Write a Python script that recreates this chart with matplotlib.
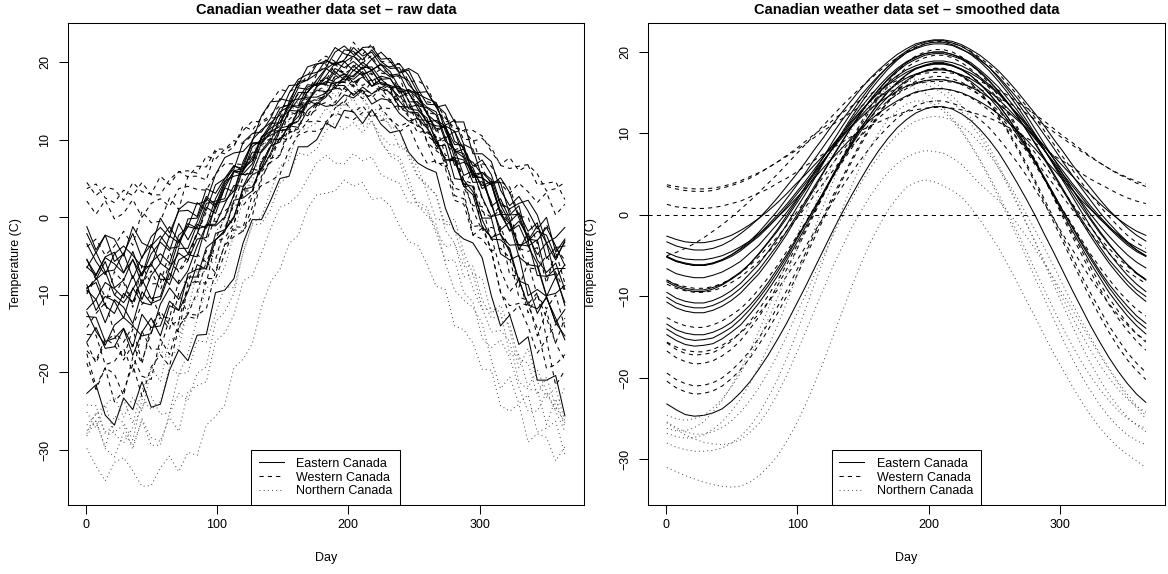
#!/usr/bin/env python3
"""Canadian weather data: raw vs smoothed daily temperature curves, side by side."""
import matplotlib
matplotlib.use("Agg")
import matplotlib.pyplot as plt
from matplotlib.lines import Line2D

plt.rcParams["font.family"] = ["Liberation Sans", "DejaVu Sans"]

# curves read every 7 days (day 1 .. 365)
days = list(range(1, 366, 7))

region_labels = ["Eastern Canada", "Western Canada", "Northern Canada"]

east_raw = {
    "St. Johns": [-3.4, -5.7, -7.4, -4.7, -3.7, -4.9, -6.4, -6.3, -2.9, -1.2, -3.1, -0.8, -1.4, 1.8, 2.1, 2.4, 5.9, 5.5, 5.7, 8.6, 10.1, 10.0, 11.8, 11.6, 13.8, 14.8, 14.3, 14.5, 15.8, 15.4, 16.4, 14.6, 15.3, 15.1, 13.4, 12.4, 12.8, 11.5, 9.7, 10.4, 6.7, 7.1, 6.4, 3.7, 4.4, 0.4, 0.3, 1.5, -3.1, -1.8, -2.3, -5.2, -3.2],
    "Halifax": [-5.5, -7.4, -5.1, -4.5, -7.1, -5.5, -7.5, -3.7, -2.4, -4.0, -3.8, -0.2, -0.1, 2.7, 1.6, 4.5, 6.6, 6.3, 7.3, 10.4, 11.5, 12.2, 14.6, 14.1, 16.2, 17.3, 17.1, 18.8, 17.7, 18.3, 19.4, 17.6, 18.2, 17.9, 16.2, 16.4, 15.4, 13.4, 11.1, 11.8, 11.1, 8.7, 5.9, 4.1, 4.6, 4.5, 0.3, 0.4, -3.0, -1.1, -3.3, -5.5, -3.0],
    "Sydney": [-6.4, -7.5, -5.2, -6.0, -7.2, -4.4, -7.6, -4.7, -3.2, -4.3, -0.8, -2.9, -0.6, 2.4, 1.3, 4.2, 5.9, 5.9, 9.1, 10.0, 10.6, 11.2, 13.7, 15.2, 15.5, 15.5, 16.0, 17.8, 18.5, 17.4, 18.1, 16.9, 17.8, 16.8, 15.5, 16.1, 14.0, 12.3, 12.5, 11.8, 8.6, 8.2, 5.1, 5.8, 4.9, 1.6, -0.6, 0.6, -1.8, -0.7, -5.3, -3.9, -3.7],
    "Yarmouth": [-1.2, -4.2, -2.3, -2.8, -5.0, -1.2, -3.3, -3.9, -0.1, -2.0, 0.8, 0.9, 0.1, 3.7, 3.1, 5.0, 6.7, 6.0, 7.7, 10.3, 11.1, 11.2, 13.8, 13.7, 15.0, 14.6, 15.5, 17.0, 17.0, 15.7, 16.8, 15.9, 16.8, 16.1, 14.3, 14.2, 14.5, 12.2, 11.8, 11.7, 8.4, 8.8, 6.6, 7.4, 5.5, 1.8, 1.1, 1.8, 2.2, 0.3, -3.3, -2.6, -1.3],
    "Charlottetown": [-5.4, -8.0, -5.7, -9.1, -8.1, -5.4, -8.6, -5.8, -4.7, -5.9, -2.3, -1.2, -1.5, -1.1, 2.4, 4.7, 5.3, 5.6, 6.9, 10.2, 12.1, 12.2, 14.2, 14.4, 16.8, 17.2, 17.3, 19.2, 18.5, 18.1, 19.3, 19.4, 17.8, 17.9, 16.0, 16.5, 15.8, 13.4, 11.4, 11.7, 9.4, 9.3, 5.2, 5.1, 4.2, 0.4, -1.7, -0.5, -2.4, -4.8, -3.3, -7.8, -6.1],
    "Fredericton": [-9.2, -8.0, -7.0, -10.0, -11.0, -9.3, -7.1, -6.0, -8.0, -8.0, -4.0, -4.0, -0.9, -1.4, 1.2, 3.8, 3.3, 6.8, 9.5, 9.5, 10.9, 13.6, 14.3, 16.7, 16.5, 17.2, 19.1, 20.0, 19.3, 20.1, 19.1, 20.4, 19.0, 18.1, 18.3, 17.6, 15.3, 14.2, 13.6, 10.2, 11.1, 7.7, 5.4, 5.1, 1.4, 2.4, -0.2, -4.2, -2.0, -5.5, -7.1, -5.9, -9.3],
    "Schefferville": [-22.7, -21.6, -25.5, -26.8, -23.3, -24.8, -21.2, -24.5, -24.1, -19.7, -17.1, -18.5, -15.2, -15.1, -9.7, -9.4, -7.9, -3.3, -0.3, -0.3, 2.2, 5.0, 5.3, 9.1, 9.1, 10.0, 12.2, 11.5, 13.8, 13.6, 12.1, 13.9, 12.0, 10.9, 11.2, 8.4, 7.0, 6.3, 5.8, 1.2, -1.8, -2.8, -3.3, -5.2, -10.1, -14.0, -12.6, -16.4, -15.4, -21.0, -21.0, -20.4, -25.6],
    "Arvida": [-12.8, -12.9, -16.0, -15.6, -14.3, -16.7, -12.5, -14.2, -14.0, -10.8, -12.0, -7.3, -6.7, -6.6, -2.1, -1.6, 0.1, 3.6, 3.9, 6.4, 9.1, 11.5, 11.8, 13.0, 14.9, 16.8, 18.0, 17.4, 17.4, 19.0, 18.3, 19.0, 17.2, 17.0, 16.6, 14.0, 13.8, 12.8, 9.7, 7.4, 7.3, 4.3, 4.0, -0.3, -2.8, -2.9, -4.0, -8.2, -8.7, -12.4, -10.2, -13.6, -15.3],
    "Bagottville": [-16.1, -14.2, -16.9, -16.7, -14.4, -17.8, -14.8, -13.0, -15.3, -11.4, -12.0, -9.6, -6.1, -6.7, -2.9, -1.7, -0.1, 3.9, 5.5, 6.1, 8.3, 11.2, 11.3, 13.8, 14.6, 16.9, 17.5, 17.2, 17.9, 19.6, 18.5, 18.9, 17.2, 16.7, 16.9, 15.1, 12.6, 12.5, 10.1, 7.4, 7.5, 4.0, 2.9, -1.2, -2.6, -2.1, -4.5, -8.1, -11.3, -11.8, -10.4, -13.0, -15.8],
    "Quebec": [-11.9, -10.6, -13.6, -10.6, -11.6, -13.7, -9.6, -11.1, -10.6, -7.2, -8.6, -6.9, -3.7, -1.0, -1.1, 0.0, 2.9, 6.2, 8.4, 8.4, 9.8, 12.8, 13.7, 16.1, 16.1, 17.7, 19.2, 18.4, 20.0, 20.8, 19.6, 19.0, 19.7, 18.3, 18.5, 16.0, 14.4, 14.1, 13.2, 9.8, 8.8, 5.4, 6.0, 2.6, 0.1, 0.4, -0.8, -5.1, -6.1, -6.3, -10.2, -7.7, -11.0],
    "Sherbrooke": [-8.7, -12.0, -10.2, -10.8, -13.0, -9.1, -11.0, -11.3, -7.2, -8.7, -5.5, -4.8, -5.1, -0.9, -0.9, 1.7, 4.1, 4.0, 6.4, 9.6, 11.1, 11.7, 14.9, 15.3, 17.1, 17.0, 18.2, 19.9, 20.1, 18.9, 20.0, 19.0, 19.8, 18.8, 16.7, 16.2, 16.1, 13.3, 12.3, 11.5, 7.7, 7.4, 4.5, 4.6, 2.0, -2.3, -3.6, -3.5, -3.7, -6.0, -10.1, -9.8, -8.8],
    "Montreal": [-9.4, -10.6, -8.4, -9.2, -10.4, -7.5, -10.6, -7.5, -5.9, -6.8, -2.9, -4.7, -2.1, 1.3, 0.5, 3.8, 6.0, 6.3, 10.0, 11.3, 12.2, 13.2, 16.0, 17.8, 18.4, 18.7, 19.3, 21.3, 22.1, 21.0, 21.7, 20.4, 21.3, 20.1, 18.6, 19.0, 16.6, 14.6, 14.5, 13.4, 9.8, 9.0, 5.5, 5.8, 4.5, 0.8, -1.8, -1.0, -3.7, -2.9, -7.7, -6.6, -6.6],
    "Ottawa": [-9.1, -8.4, -11.4, -12.4, -9.8, -10.9, -8.0, -10.5, -10.2, -6.6, -4.6, -5.5, -2.8, -2.6, 1.8, 2.1, 3.4, 7.2, 9.6, 9.7, 11.8, 14.1, 14.5, 17.5, 17.7, 18.5, 20.3, 19.7, 21.6, 21.4, 20.3, 21.6, 20.1, 19.2, 19.3, 17.1, 15.9, 15.3, 14.8, 11.1, 8.6, 7.7, 7.1, 5.5, 1.6, -1.6, -0.6, -3.7, -3.1, -7.5, -7.6, -7.3, -11.4],
    "Toronto": [-2.1, -4.6, -2.3, -5.7, -4.7, -2.1, -5.3, -2.5, -1.3, -2.6, 1.0, 2.0, 1.7, 2.1, 5.5, 7.7, 8.3, 8.5, 9.8, 13.1, 14.9, 15.0, 17.0, 17.1, 19.4, 19.8, 19.9, 21.9, 21.1, 20.7, 21.9, 22.0, 20.4, 20.5, 18.7, 19.2, 18.5, 16.2, 14.2, 14.5, 12.3, 12.3, 8.2, 8.2, 7.2, 3.5, 1.5, 2.7, 0.8, -1.5, 0.0, -4.5, -2.8],
    "London": [-6.5, -4.5, -7.0, -6.8, -4.6, -7.9, -5.1, -3.5, -5.9, -2.4, -3.3, -1.2, 1.9, 0.9, 4.2, 5.0, 6.2, 9.7, 10.8, 11.0, 12.8, 15.3, 15.0, 17.2, 17.7, 19.7, 20.2, 19.6, 20.3, 21.9, 20.8, 21.3, 19.6, 19.4, 19.8, 18.3, 16.1, 16.2, 14.3, 11.9, 12.5, 9.4, 8.8, 5.1, 4.2, 5.1, 3.2, -0.1, -2.8, -3.0, -1.3, -3.7, -6.2],
    "Thunder Bay": [-12.2, -14.7, -16.5, -13.9, -12.9, -14.0, -15.3, -15.0, -11.2, -9.1, -10.6, -7.7, -7.7, -3.9, -2.9, -1.9, 2.2, 2.5, 3.4, 7.0, 9.2, 9.7, 12.0, 12.4, 15.0, 16.4, 16.2, 16.6, 18.2, 17.8, 18.8, 16.9, 17.4, 17.0, 15.0, 13.6, 13.5, 11.7, 9.2, 9.3, 5.0, 4.8, 3.3, -0.1, -0.1, -4.7, -5.5, -4.9, -10.1, -9.3, -10.2, -13.6, -11.9],
}

east_smooth = {
    "St. Johns": [-4.6, -5.1, -5.4, -5.5, -5.5, -5.3, -5.0, -4.5, -3.9, -3.2, -2.3, -1.4, -0.3, 0.8, 2.0, 3.2, 4.5, 5.8, 7.0, 8.2, 9.4, 10.5, 11.6, 12.5, 13.3, 14.0, 14.6, 15.1, 15.3, 15.5, 15.5, 15.3, 15.0, 14.5, 13.9, 13.2, 12.4, 11.4, 10.4, 9.3, 8.1, 6.8, 5.6, 4.3, 3.1, 1.8, 0.7, -0.5, -1.5, -2.4, -3.3, -4.0, -4.6],
    "Halifax": [-5.1, -5.6, -5.9, -6.1, -6.1, -5.9, -5.5, -4.9, -4.2, -3.4, -2.4, -1.2, 0.0, 1.3, 2.7, 4.1, 5.6, 7.1, 8.6, 10.0, 11.4, 12.7, 13.9, 15.0, 16.0, 16.8, 17.5, 18.0, 18.3, 18.5, 18.5, 18.3, 17.9, 17.4, 16.7, 15.8, 14.9, 13.7, 12.5, 11.2, 9.8, 8.4, 6.9, 5.4, 3.9, 2.5, 1.1, -0.2, -1.4, -2.5, -3.5, -4.3, -5.0],
    "Sydney": [-5.2, -5.7, -6.0, -6.2, -6.2, -6.0, -5.6, -5.1, -4.4, -3.5, -2.6, -1.5, -0.3, 1.0, 2.4, 3.8, 5.2, 6.7, 8.1, 9.5, 10.9, 12.1, 13.3, 14.4, 15.3, 16.1, 16.8, 17.3, 17.6, 17.8, 17.8, 17.6, 17.2, 16.7, 16.0, 15.2, 14.2, 13.1, 11.9, 10.7, 9.3, 7.9, 6.5, 5.0, 3.6, 2.2, 0.8, -0.4, -1.6, -2.7, -3.7, -4.5, -5.1],
    "Yarmouth": [-2.6, -3.0, -3.3, -3.4, -3.4, -3.2, -2.9, -2.5, -1.9, -1.2, -0.4, 0.5, 1.5, 2.6, 3.8, 4.9, 6.1, 7.3, 8.5, 9.7, 10.8, 11.9, 12.9, 13.8, 14.5, 15.2, 15.8, 16.2, 16.5, 16.6, 16.6, 16.4, 16.1, 15.7, 15.1, 14.4, 13.6, 12.7, 11.7, 10.7, 9.5, 8.4, 7.2, 6.0, 4.8, 3.6, 2.5, 1.4, 0.4, -0.5, -1.3, -2.0, -2.5],
    "Charlottetown": [-6.6, -7.2, -7.5, -7.7, -7.7, -7.4, -7.0, -6.4, -5.7, -4.7, -3.7, -2.4, -1.1, 0.3, 1.8, 3.4, 5.0, 6.6, 8.2, 9.7, 11.2, 12.6, 13.9, 15.1, 16.2, 17.1, 17.8, 18.3, 18.7, 18.9, 18.9, 18.7, 18.3, 17.7, 16.9, 16.0, 15.0, 13.7, 12.4, 11.0, 9.5, 7.9, 6.3, 4.7, 3.2, 1.6, 0.1, -1.3, -2.6, -3.8, -4.9, -5.8, -6.5],
    "Fredericton": [-8.0, -8.6, -9.0, -9.2, -9.2, -8.9, -8.5, -7.8, -7.0, -6.0, -4.8, -3.4, -2.0, -0.4, 1.3, 3.0, 4.7, 6.5, 8.2, 9.9, 11.6, 13.1, 14.5, 15.8, 17.0, 18.0, 18.8, 19.4, 19.8, 20.0, 20.0, 19.7, 19.3, 18.7, 17.8, 16.8, 15.7, 14.3, 12.9, 11.3, 9.7, 8.0, 6.2, 4.5, 2.7, 1.0, -0.6, -2.2, -3.6, -4.9, -6.1, -7.1, -7.9],
    "Schefferville": [-23.2, -23.9, -24.5, -24.7, -24.6, -24.3, -23.8, -22.9, -21.8, -20.5, -18.9, -17.2, -15.3, -13.3, -11.1, -8.9, -6.6, -4.3, -2.0, 0.2, 2.3, 4.3, 6.2, 7.9, 9.4, 10.7, 11.7, 12.5, 13.0, 13.3, 13.3, 13.0, 12.4, 11.6, 10.5, 9.2, 7.7, 5.9, 4.0, 2.0, -0.1, -2.4, -4.6, -6.9, -9.2, -11.4, -13.6, -15.6, -17.5, -19.2, -20.7, -22.0, -23.0],
    "Arvida": [-14.0, -14.7, -15.2, -15.4, -15.3, -15.1, -14.5, -13.8, -12.8, -11.6, -10.2, -8.7, -7.0, -5.2, -3.2, -1.2, 0.8, 2.8, 4.9, 6.9, 8.8, 10.6, 12.2, 13.8, 15.1, 16.2, 17.2, 17.9, 18.3, 18.6, 18.6, 18.3, 17.8, 17.1, 16.1, 14.9, 13.6, 12.0, 10.3, 8.5, 6.6, 4.6, 2.6, 0.5, -1.5, -3.5, -5.4, -7.2, -8.9, -10.4, -11.8, -13.0, -13.9],
    "Bagottville": [-14.7, -15.4, -15.9, -16.1, -16.0, -15.8, -15.2, -14.4, -13.5, -12.2, -10.8, -9.2, -7.5, -5.6, -3.6, -1.6, 0.5, 2.6, 4.7, 6.7, 8.6, 10.5, 12.2, 13.7, 15.1, 16.3, 17.2, 18.0, 18.4, 18.7, 18.7, 18.4, 17.9, 17.1, 16.1, 14.9, 13.5, 12.0, 10.2, 8.4, 6.4, 4.4, 2.3, 0.2, -1.9, -3.9, -5.9, -7.7, -9.5, -11.0, -12.4, -13.6, -14.6],
    "Quebec": [-10.7, -11.4, -11.8, -12.0, -12.0, -11.7, -11.2, -10.5, -9.6, -8.4, -7.2, -5.7, -4.1, -2.4, -0.5, 1.3, 3.2, 5.2, 7.1, 8.9, 10.7, 12.4, 14.0, 15.4, 16.7, 17.8, 18.7, 19.3, 19.8, 20.0, 20.0, 19.7, 19.2, 18.5, 17.6, 16.5, 15.2, 13.8, 12.2, 10.5, 8.7, 6.8, 4.9, 3.0, 1.1, -0.8, -2.6, -4.3, -5.9, -7.3, -8.6, -9.7, -10.6],
    "Sherbrooke": [-10.1, -10.8, -11.2, -11.4, -11.4, -11.1, -10.6, -9.9, -9.0, -7.9, -6.7, -5.2, -3.7, -2.0, -0.2, 1.6, 3.5, 5.3, 7.2, 9.0, 10.8, 12.4, 14.0, 15.4, 16.6, 17.6, 18.5, 19.1, 19.6, 19.8, 19.8, 19.5, 19.1, 18.4, 17.5, 16.4, 15.2, 13.8, 12.2, 10.5, 8.8, 7.0, 5.1, 3.2, 1.3, -0.5, -2.2, -3.9, -5.5, -6.8, -8.1, -9.2, -10.0],
    "Montreal": [-8.2, -8.8, -9.2, -9.4, -9.4, -9.1, -8.6, -7.9, -7.1, -6.0, -4.7, -3.3, -1.8, -0.1, 1.6, 3.4, 5.3, 7.1, 9.0, 10.8, 12.5, 14.1, 15.6, 17.0, 18.2, 19.3, 20.1, 20.8, 21.2, 21.4, 21.4, 21.1, 20.7, 20.0, 19.1, 18.1, 16.8, 15.4, 13.9, 12.3, 10.5, 8.7, 6.9, 5.0, 3.2, 1.4, -0.4, -2.0, -3.5, -4.9, -6.1, -7.2, -8.0],
    "Ottawa": [-9.5, -10.2, -10.6, -10.8, -10.8, -10.5, -10.0, -9.3, -8.4, -7.2, -6.0, -4.5, -2.9, -1.2, 0.7, 2.5, 4.4, 6.4, 8.3, 10.1, 11.9, 13.6, 15.2, 16.6, 17.9, 19.0, 19.9, 20.5, 21.0, 21.2, 21.2, 20.9, 20.4, 19.7, 18.8, 17.7, 16.4, 15.0, 13.4, 11.7, 9.9, 8.0, 6.1, 4.2, 2.3, 0.4, -1.4, -3.1, -4.7, -6.1, -7.4, -8.5, -9.4],
    "Toronto": [-3.3, -3.8, -4.1, -4.3, -4.3, -4.1, -3.7, -3.1, -2.3, -1.4, -0.4, 0.8, 2.1, 3.5, 4.9, 6.4, 8.0, 9.5, 11.1, 12.6, 14.0, 15.4, 16.7, 17.8, 18.8, 19.7, 20.4, 21.0, 21.3, 21.5, 21.5, 21.3, 20.9, 20.3, 19.6, 18.7, 17.7, 16.5, 15.2, 13.8, 12.4, 10.9, 9.3, 7.8, 6.2, 4.7, 3.3, 1.9, 0.6, -0.5, -1.6, -2.5, -3.2],
    "London": [-5.1, -5.7, -6.0, -6.2, -6.2, -5.9, -5.5, -4.9, -4.1, -3.2, -2.1, -0.8, 0.5, 2.0, 3.5, 5.1, 6.8, 8.4, 10.0, 11.6, 13.1, 14.6, 15.9, 17.1, 18.2, 19.1, 19.9, 20.4, 20.8, 21.0, 21.0, 20.8, 20.3, 19.8, 19.0, 18.1, 17.0, 15.7, 14.4, 12.9, 11.4, 9.8, 8.2, 6.5, 4.9, 3.3, 1.8, 0.3, -1.0, -2.2, -3.3, -4.3, -5.0],
    "Thunder Bay": [-13.4, -14.1, -14.5, -14.7, -14.7, -14.4, -13.9, -13.2, -12.2, -11.1, -9.8, -8.3, -6.6, -4.9, -3.0, -1.1, 0.8, 2.8, 4.7, 6.6, 8.5, 10.2, 11.8, 13.3, 14.5, 15.6, 16.5, 17.2, 17.7, 17.9, 17.9, 17.6, 17.1, 16.4, 15.5, 14.4, 13.1, 11.6, 9.9, 8.2, 6.4, 4.5, 2.5, 0.5, -1.4, -3.3, -5.1, -6.9, -8.5, -9.9, -11.2, -12.4, -13.3],
}

west_raw = {
    "Winnipeg": [-15.1, -15.2, -19.0, -18.6, -16.9, -20.0, -14.7, -17.0, -17.0, -13.0, -14.8, -8.9, -8.3, -8.5, -3.1, -2.7, -0.8, 3.4, 3.4, 6.3, 9.5, 12.4, 12.6, 13.8, 16.0, 18.4, 19.7, 18.8, 18.8, 20.8, 19.9, 20.9, 18.6, 18.4, 18.1, 14.9, 14.9, 13.8, 10.1, 7.4, 7.6, 4.0, 3.9, -1.3, -4.3, -4.0, -5.2, -10.3, -10.7, -15.3, -12.1, -16.3, -18.4],
    "The Pas": [-18.8, -22.2, -19.4, -23.8, -22.4, -19.0, -23.1, -19.3, -17.7, -19.2, -14.1, -12.5, -12.6, -11.8, -6.9, -3.6, -2.5, -1.8, 0.2, 4.9, 7.6, 8.0, 10.9, 11.4, 14.7, 15.3, 15.6, 18.4, 17.4, 17.0, 18.5, 18.5, 16.3, 16.5, 13.8, 14.4, 13.1, 9.8, 6.9, 7.0, 3.8, 3.3, -2.3, -2.8, -4.4, -9.6, -12.6, -11.4, -14.1, -17.5, -15.7, -21.7, -19.7],
    "Regina": [-16.2, -18.8, -16.0, -15.1, -18.4, -16.4, -18.9, -13.9, -12.1, -13.9, -13.4, -8.6, -8.2, -4.3, -5.4, -1.4, 1.6, 1.5, 3.1, 7.4, 9.0, 10.2, 13.6, 13.2, 16.1, 17.7, 17.6, 19.8, 18.5, 19.3, 20.8, 18.4, 19.1, 18.6, 16.2, 16.4, 14.8, 12.1, 8.8, 9.5, 8.3, 4.8, 0.9, -1.7, -1.3, -1.7, -7.4, -7.6, -12.3, -10.0, -13.0, -16.2, -13.0],
    "Pr. Albert": [-17.6, -21.8, -19.4, -20.2, -23.0, -18.0, -20.5, -20.9, -15.7, -17.7, -13.5, -12.8, -13.1, -7.9, -7.9, -4.7, -1.6, -1.8, 1.3, 5.3, 7.1, 7.9, 11.9, 12.3, 14.7, 14.5, 16.0, 18.2, 18.4, 16.8, 18.3, 16.9, 18.0, 16.7, 14.1, 13.5, 13.4, 9.7, 8.6, 7.7, 2.8, 2.4, -1.2, -1.0, -4.2, -9.7, -11.4, -11.1, -11.3, -14.3, -19.5, -19.0, -17.7],
    "Edmonton": [-14.2, -12.4, -11.0, -14.8, -16.1, -14.0, -11.2, -10.0, -12.8, -13.0, -8.1, -8.5, -4.8, -5.8, -2.9, 0.0, -0.9, 3.1, 6.3, 5.9, 7.2, 10.4, 10.9, 13.8, 13.1, 13.9, 16.1, 17.2, 16.1, 17.1, 15.8, 17.6, 15.9, 14.8, 15.4, 14.7, 11.9, 10.9, 10.4, 6.5, 7.9, 3.9, 1.5, 1.4, -2.9, -1.2, -4.3, -9.0, -5.8, -10.1, -11.8, -10.0, -14.2],
    "Calgary": [-9.7, -7.4, -11.3, -7.0, -8.4, -11.6, -6.2, -8.6, -8.5, -4.5, -7.1, -5.6, -2.1, 0.7, -0.6, -0.1, 2.8, 6.1, 8.1, 7.1, 7.9, 11.2, 11.4, 14.0, 13.2, 14.7, 16.2, 14.8, 16.7, 17.7, 16.0, 15.4, 16.7, 15.1, 16.0, 13.1, 11.7, 12.0, 11.8, 8.0, 7.7, 4.1, 6.0, 2.4, 0.0, 1.6, 1.0, -4.0, -4.4, -3.9, -8.5, -4.4, -8.5],
    "Kamloops": [-3.8, -2.8, -4.9, -3.7, -1.8, -3.6, 0.8, -0.7, -0.5, 2.5, 1.0, 5.3, 5.3, 4.8, 8.5, 8.2, 9.1, 11.8, 11.2, 12.9, 14.8, 16.5, 16.2, 16.8, 18.3, 19.9, 20.8, 20.1, 20.1, 22.6, 21.0, 22.4, 20.1, 20.0, 19.8, 17.5, 17.6, 16.9, 14.2, 12.3, 12.6, 10.0, 10.1, 6.3, 4.3, 4.6, 3.9, 0.1, 0.0, -3.4, -0.9, -4.0, -5.5],
    "Vancouver": [3.7, 4.3, 2.5, 1.9, 3.5, 2.8, 4.5, 2.9, 2.9, 4.9, 5.9, 5.2, 6.6, 6.5, 8.8, 8.8, 9.3, 11.2, 12.4, 12.3, 13.2, 14.4, 14.4, 15.9, 15.9, 16.2, 17.1, 16.7, 17.8, 17.6, 17.0, 17.8, 17.0, 16.5, 16.7, 15.5, 15.0, 14.9, 14.7, 12.8, 11.5, 11.3, 11.2, 10.5, 8.5, 6.8, 7.7, 6.0, 6.7, 4.2, 4.4, 4.6, 2.3],
    "Victoria": [4.5, 2.8, 3.9, 3.6, 2.2, 4.5, 3.3, 3.0, 5.3, 4.2, 5.9, 6.0, 5.7, 7.9, 7.5, 8.8, 9.9, 9.5, 10.6, 12.2, 12.8, 12.9, 14.4, 14.4, 15.3, 15.1, 15.7, 16.6, 16.6, 15.9, 16.5, 16.0, 16.5, 16.0, 14.9, 14.9, 14.9, 13.5, 13.3, 13.1, 11.0, 11.2, 9.8, 10.2, 9.0, 6.7, 6.3, 6.6, 6.8, 5.6, 3.4, 3.7, 4.5],
    "Pr. George": [-9.9, -7.8, -10.3, -10.1, -7.9, -11.3, -8.5, -6.9, -9.4, -5.9, -6.9, -5.0, -1.9, -3.1, 0.1, 0.8, 1.8, 5.2, 6.2, 6.3, 8.0, 10.3, 9.9, 12.0, 12.4, 14.4, 14.8, 14.2, 14.8, 16.4, 15.3, 15.8, 14.2, 14.0, 14.5, 13.0, 10.9, 11.2, 9.3, 7.1, 7.8, 4.8, 4.3, 0.8, 0.0, 1.0, -0.8, -3.9, -6.5, -6.7, -4.9, -7.1, -9.6],
    "Pr. Rupert": [2.1, 0.4, 2.2, -0.2, 0.5, 2.3, 0.0, 1.8, 2.4, 1.4, 3.7, 4.0, 3.6, 3.5, 5.6, 6.9, 6.9, 6.8, 7.3, 9.3, 10.2, 10.0, 11.1, 10.9, 12.3, 12.4, 12.3, 13.5, 13.0, 12.6, 13.5, 13.6, 12.5, 12.7, 11.7, 12.3, 12.0, 10.6, 9.5, 10.0, 8.7, 9.1, 6.5, 6.9, 6.6, 4.3, 3.1, 4.4, 3.3, 1.9, 3.2, 0.3, 1.7],
    "Whitehorse": [-17.2, -18.5, -15.6, -16.5, -18.1, -14.4, -18.6, -14.8, -12.9, -14.4, -9.8, -12.5, -9.6, -5.7, -7.2, -3.5, -1.2, -1.3, 2.9, 4.1, 4.7, 5.5, 8.7, 10.6, 11.1, 11.1, 11.7, 14.1, 15.0, 13.5, 14.4, 12.8, 14.1, 12.7, 11.0, 11.9, 9.1, 7.0, 7.3, 6.3, 2.2, 1.7, -2.3, -1.4, -2.5, -6.8, -9.6, -8.1, -11.2, -9.7, -15.6, -13.8, -13.6],
}

west_smooth = {
    "Winnipeg": [-16.7, -17.5, -18.0, -18.3, -18.2, -17.9, -17.3, -16.5, -15.4, -14.0, -12.5, -10.7, -8.7, -6.7, -4.5, -2.2, 0.1, 2.4, 4.7, 7.0, 9.1, 11.2, 13.1, 14.8, 16.3, 17.6, 18.7, 19.5, 20.0, 20.3, 20.3, 20.0, 19.4, 18.5, 17.4, 16.1, 14.6, 12.8, 10.9, 8.8, 6.7, 4.4, 2.1, -0.3, -2.6, -4.8, -7.0, -9.0, -11.0, -12.7, -14.2, -15.5, -16.6],
    "The Pas": [-20.4, -21.2, -21.7, -22.0, -21.9, -21.6, -21.0, -20.1, -19.0, -17.6, -15.9, -14.1, -12.1, -10.0, -7.7, -5.3, -2.9, -0.5, 1.9, 4.2, 6.4, 8.5, 10.5, 12.3, 13.9, 15.2, 16.3, 17.2, 17.7, 18.0, 18.0, 17.6, 17.0, 16.2, 15.0, 13.7, 12.1, 10.2, 8.2, 6.1, 3.9, 1.5, -0.9, -3.3, -5.7, -8.0, -10.3, -12.4, -14.4, -16.2, -17.8, -19.1, -20.2],
    "Regina": [-15.7, -16.5, -17.0, -17.2, -17.1, -16.9, -16.3, -15.5, -14.4, -13.1, -11.6, -9.9, -8.1, -6.1, -4.0, -1.9, 0.3, 2.5, 4.8, 6.9, 8.9, 10.9, 12.7, 14.4, 15.8, 17.0, 18.1, 18.8, 19.3, 19.6, 19.6, 19.3, 18.7, 17.9, 16.9, 15.6, 14.1, 12.5, 10.6, 8.7, 6.6, 4.4, 2.2, 0.0, -2.2, -4.3, -6.4, -8.4, -10.2, -11.8, -13.3, -14.6, -15.6],
    "Pr. Albert": [-19.4, -20.2, -20.7, -21.0, -20.9, -20.6, -20.0, -19.1, -18.0, -16.7, -15.1, -13.3, -11.3, -9.3, -7.0, -4.8, -2.4, -0.1, 2.3, 4.5, 6.7, 8.8, 10.7, 12.4, 14.0, 15.3, 16.4, 17.2, 17.7, 18.0, 18.0, 17.6, 17.1, 16.2, 15.1, 13.8, 12.2, 10.4, 8.5, 6.4, 4.2, 1.9, -0.4, -2.8, -5.1, -7.4, -9.6, -11.6, -13.6, -15.3, -16.9, -18.2, -19.3],
    "Edmonton": [-12.6, -13.2, -13.6, -13.8, -13.8, -13.5, -13.0, -12.3, -11.5, -10.4, -9.1, -7.7, -6.2, -4.5, -2.8, -1.0, 0.9, 2.7, 4.6, 6.4, 8.1, 9.7, 11.2, 12.6, 13.8, 14.9, 15.7, 16.4, 16.8, 17.0, 17.0, 16.7, 16.3, 15.6, 14.7, 13.7, 12.4, 11.0, 9.5, 7.9, 6.1, 4.3, 2.5, 0.6, -1.2, -3.0, -4.8, -6.4, -7.9, -9.3, -10.5, -11.6, -12.4],
    "Calgary": [-8.0, -8.5, -8.8, -9.0, -9.0, -8.8, -8.4, -7.8, -7.1, -6.2, -5.1, -3.9, -2.7, -1.3, 0.2, 1.7, 3.2, 4.7, 6.3, 7.8, 9.2, 10.6, 11.8, 13.0, 14.0, 14.8, 15.5, 16.1, 16.4, 16.6, 16.6, 16.4, 16.0, 15.4, 14.7, 13.8, 12.8, 11.6, 10.4, 9.0, 7.6, 6.1, 4.5, 3.0, 1.4, -0.1, -1.5, -2.9, -4.1, -5.3, -6.3, -7.2, -7.9],
    "Kamloops": [-5.0, -4.6, -4.1, -3.5, -2.8, -2.0, -1.2, -0.3, 0.7, 1.7, 2.8, 3.9, 5.0, 6.2, 7.4, 8.6, 9.8, 11.0, 12.2, 13.4, 14.5, 15.6, 16.6, 17.6, 18.5, 19.3, 20.0, 20.6, 21.0, 21.3, 21.3, 21.1, 20.7, 20.1, 19.3, 18.4, 17.4, 16.1, 14.8, 13.4, 11.9, 10.3, 8.7, 7.1, 5.6, 4.0, 2.5, 1.1, -0.2, -1.4, -2.5, -3.4, -4.1],
    "Vancouver": [3.5, 3.2, 3.0, 2.9, 2.9, 3.0, 3.3, 3.6, 4.0, 4.5, 5.1, 5.8, 6.5, 7.3, 8.1, 9.0, 9.9, 10.7, 11.6, 12.5, 13.3, 14.1, 14.8, 15.4, 16.0, 16.5, 16.9, 17.2, 17.4, 17.5, 17.5, 17.4, 17.2, 16.8, 16.4, 15.9, 15.3, 14.7, 13.9, 13.2, 12.3, 11.5, 10.6, 9.7, 8.9, 8.0, 7.2, 6.4, 5.7, 5.0, 4.5, 3.9, 3.5],
    "Victoria": [3.7, 3.5, 3.3, 3.2, 3.2, 3.3, 3.5, 3.8, 4.2, 4.7, 5.2, 5.8, 6.5, 7.2, 7.9, 8.7, 9.5, 10.3, 11.1, 11.8, 12.6, 13.3, 13.9, 14.5, 15.0, 15.5, 15.9, 16.1, 16.3, 16.4, 16.4, 16.3, 16.1, 15.8, 15.4, 15.0, 14.4, 13.8, 13.2, 12.5, 11.7, 11.0, 10.2, 9.4, 8.6, 7.8, 7.1, 6.4, 5.7, 5.1, 4.6, 4.1, 3.8],
    "Pr. George": [-8.5, -9.0, -9.3, -9.5, -9.5, -9.3, -8.9, -8.3, -7.6, -6.7, -5.7, -4.6, -3.3, -2.0, -0.6, 0.9, 2.4, 3.9, 5.4, 6.9, 8.3, 9.6, 10.8, 11.9, 12.9, 13.8, 14.5, 15.0, 15.3, 15.5, 15.5, 15.3, 14.9, 14.4, 13.7, 12.8, 11.8, 10.7, 9.4, 8.1, 6.7, 5.2, 3.7, 2.2, 0.7, -0.8, -2.2, -3.5, -4.7, -5.9, -6.9, -7.7, -8.4],
    "Pr. Rupert": [1.3, 1.0, 0.9, 0.8, 0.8, 0.9, 1.1, 1.4, 1.7, 2.2, 2.7, 3.2, 3.9, 4.5, 5.2, 6.0, 6.7, 7.5, 8.2, 8.9, 9.6, 10.3, 10.9, 11.4, 11.9, 12.3, 12.7, 12.9, 13.1, 13.2, 13.2, 13.1, 12.9, 12.6, 12.3, 11.9, 11.4, 10.8, 10.2, 9.5, 8.8, 8.1, 7.3, 6.6, 5.9, 5.1, 4.4, 3.8, 3.2, 2.6, 2.1, 1.7, 1.4],
    "Whitehorse": [-15.6, -16.2, -16.6, -16.8, -16.8, -16.5, -16.0, -15.3, -14.5, -13.4, -12.1, -10.7, -9.2, -7.5, -5.8, -4.0, -2.1, -0.3, 1.6, 3.4, 5.1, 6.7, 8.2, 9.6, 10.8, 11.9, 12.7, 13.4, 13.8, 14.0, 14.0, 13.7, 13.3, 12.6, 11.7, 10.7, 9.4, 8.0, 6.5, 4.9, 3.1, 1.3, -0.5, -2.4, -4.2, -6.0, -7.8, -9.4, -10.9, -12.3, -13.5, -14.6, -15.4],
}

north_raw = {
    "Churchill": [-26.8, -25.4, -24.2, -27.9, -29.1, -27.1, -24.4, -23.1, -25.4, -25.2, -20.2, -20.0, -15.9, -16.1, -12.5, -8.9, -9.1, -4.6, -1.0, -0.8, 1.0, 4.4, 5.4, 8.3, 8.0, 8.8, 11.2, 12.2, 11.3, 12.2, 10.9, 12.4, 10.5, 9.3, 9.4, 8.4, 5.3, 4.0, 3.0, -1.1, -0.2, -4.5, -7.3, -7.9, -12.4, -11.3, -14.5, -19.4, -16.9, -21.2, -23.2, -22.0, -26.3],
    "Uranium Cty": [-25.1, -27.2, -24.2, -23.1, -25.8, -23.2, -25.0, -19.7, -17.2, -18.1, -16.9, -11.6, -10.3, -5.7, -5.9, -1.3, 2.2, 2.7, 4.6, 8.9, 10.5, 11.5, 14.4, 13.6, 15.8, 16.7, 15.9, 17.4, 15.4, 15.4, 16.0, 13.1, 13.1, 11.8, 9.0, 8.5, 6.4, 3.2, -0.3, -0.3, -1.7, -5.3, -9.2, -11.9, -11.7, -12.2, -17.6, -17.7, -21.9, -19.7, -22.4, -24.9, -21.8],
    "Dawson": [-27.9, -25.1, -27.7, -26.8, -23.5, -26.6, -22.3, -19.3, -21.2, -15.7, -15.6, -12.0, -6.9, -7.0, -2.0, -0.1, 2.1, 7.0, 8.8, 9.2, 11.4, 14.0, 13.3, 15.3, 15.2, 16.7, 16.3, 14.5, 14.4, 15.3, 13.0, 12.5, 9.6, 8.2, 7.8, 5.0, 1.5, 0.9, -2.1, -5.6, -5.5, -9.7, -10.9, -15.6, -16.8, -15.8, -18.1, -21.9, -25.0, -25.0, -22.6, -25.0, -27.6],
    "Yellowknife": [-28.2, -26.2, -29.6, -25.6, -26.5, -28.7, -23.5, -24.8, -23.8, -19.3, -20.3, -17.6, -13.1, -9.1, -8.5, -6.4, -2.2, 2.3, 5.6, 6.0, 7.9, 11.5, 12.4, 15.0, 14.6, 15.9, 17.1, 15.6, 16.8, 17.2, 15.1, 13.8, 14.0, 11.7, 11.3, 7.7, 5.2, 4.3, 2.8, -1.7, -3.3, -7.7, -7.3, -11.6, -14.8, -14.6, -16.0, -21.2, -22.2, -22.3, -26.7, -23.4, -27.1],
    "Iqaluit": [-24.2, -24.3, -27.9, -27.7, -26.8, -29.9, -26.0, -28.4, -28.9, -25.8, -27.6, -22.5, -21.7, -21.2, -16.0, -14.9, -12.6, -8.2, -7.5, -4.6, -1.4, 1.3, 1.8, 2.9, 5.0, 7.0, 8.0, 7.0, 6.9, 8.2, 7.3, 7.8, 5.5, 4.9, 4.4, 1.8, 2.0, 1.3, -1.7, -3.8, -3.4, -6.3, -6.3, -10.6, -13.0, -12.8, -13.9, -18.3, -18.8, -22.9, -20.6, -24.4, -26.5],
    "Inuvik": [-27.5, -26.3, -29.8, -30.9, -27.8, -29.4, -26.2, -29.4, -29.4, -25.3, -22.7, -23.6, -20.1, -19.3, -13.5, -12.2, -9.8, -4.5, -0.8, 0.1, 3.3, 6.6, 7.4, 11.2, 11.5, 12.2, 14.1, 13.0, 14.7, 13.8, 11.7, 12.4, 9.8, 7.9, 7.2, 3.8, 1.6, 0.2, -0.9, -5.9, -9.4, -10.7, -11.6, -13.7, -18.4, -22.1, -20.6, -24.0, -22.9, -27.7, -27.2, -26.3, -30.6],
    "Resolute": [-29.8, -32.1, -34.0, -31.6, -31.0, -32.7, -34.7, -34.6, -32.3, -30.8, -32.8, -30.3, -30.7, -26.8, -25.7, -24.2, -19.4, -18.3, -16.3, -11.6, -8.3, -6.7, -3.4, -2.3, 1.1, 2.9, 3.1, 3.4, 4.8, 4.0, 4.5, 2.3, 2.5, 1.5, -1.1, -3.1, -3.6, -6.0, -8.9, -9.3, -14.0, -14.5, -16.2, -19.6, -19.7, -24.3, -25.0, -24.1, -29.0, -27.9, -28.4, -31.4, -29.6],
}

north_smooth = {
    "Churchill": [-25.4, -26.1, -26.6, -26.9, -26.9, -26.6, -26.1, -25.3, -24.2, -22.8, -21.2, -19.3, -17.2, -14.9, -12.4, -9.9, -7.4, -5.0, -2.6, -0.3, 1.8, 3.8, 5.6, 7.2, 8.6, 9.8, 10.8, 11.5, 11.9, 12.1, 12.0, 11.6, 10.9, 10.0, 8.8, 7.4, 5.8, 4.1, 2.2, 0.2, -1.9, -4.1, -6.3, -8.6, -10.8, -13.0, -15.0, -17.0, -18.8, -20.5, -22.0, -23.4, -24.6],
    "Uranium Cty": [-24.6, -25.0, -25.2, -25.0, -24.6, -23.7, -22.6, -21.1, -19.4, -17.4, -15.2, -12.8, -10.2, -7.4, -4.6, -1.8, 1.0, 3.7, 6.2, 8.4, 10.4, 12.1, 13.6, 14.7, 15.6, 16.1, 16.4, 16.4, 16.1, 15.6, 14.9, 13.9, 12.7, 11.2, 9.6, 7.8, 5.8, 3.6, 1.4, -1.0, -3.3, -5.7, -8.0, -10.3, -12.5, -14.6, -16.6, -18.4, -20.0, -21.4, -22.6, -23.5, -24.2],
    "Dawson": [-26.2, -26.5, -26.5, -26.1, -25.4, -24.2, -22.8, -21.0, -19.0, -16.7, -14.2, -11.5, -8.6, -5.7, -2.8, 0.0, 2.8, 5.4, 7.8, 9.9, 11.8, 13.2, 14.4, 15.2, 15.8, 16.0, 15.9, 15.5, 15.0, 14.2, 13.2, 11.9, 10.4, 8.7, 6.8, 4.8, 2.6, 0.3, -2.0, -4.4, -6.8, -9.2, -11.6, -13.9, -16.0, -18.0, -19.8, -21.4, -22.8, -24.0, -25.0, -25.7, -26.2],
    "Yellowknife": [-26.8, -27.2, -27.4, -27.3, -27.0, -26.3, -25.4, -24.1, -22.6, -20.7, -18.6, -16.2, -13.6, -10.8, -7.8, -4.8, -1.8, 1.1, 4.0, 6.6, 9.0, 11.0, 12.8, 14.2, 15.3, 16.0, 16.5, 16.7, 16.6, 16.2, 15.6, 14.6, 13.4, 11.9, 10.2, 8.3, 6.2, 3.9, 1.6, -0.9, -3.4, -6.0, -8.6, -11.1, -13.6, -16.0, -18.2, -20.2, -22.0, -23.5, -24.8, -25.8, -26.6],
    "Iqaluit": [-25.5, -26.3, -27.0, -27.5, -27.9, -28.1, -28.2, -28.0, -27.6, -26.7, -25.6, -24.0, -22.0, -19.7, -17.2, -14.5, -11.8, -9.1, -6.4, -4.0, -1.7, 0.3, 2.2, 3.8, 5.2, 6.3, 7.1, 7.6, 7.9, 7.8, 7.6, 7.0, 6.2, 5.0, 3.8, 2.8, 1.8, 0.4, -1.0, -2.6, -4.2, -6.0, -7.8, -9.7, -11.6, -13.5, -15.4, -17.2, -19.0, -20.7, -22.4, -23.7, -25.0],
    "Inuvik": [-28.0, -28.5, -28.8, -29.0, -29.0, -28.9, -28.6, -28.0, -27.2, -26.0, -24.4, -22.4, -20.2, -17.6, -14.8, -11.7, -8.6, -5.5, -2.4, 0.6, 3.4, 6.0, 8.2, 10.1, 11.7, 12.8, 13.6, 14.0, 14.0, 13.6, 12.8, 11.6, 10.2, 8.5, 6.6, 4.5, 2.2, -0.2, -2.6, -5.2, -7.8, -10.3, -12.8, -15.3, -17.6, -19.7, -21.6, -23.3, -24.8, -26.0, -27.0, -27.7, -28.2],
    "Resolute": [-31.0, -31.5, -32.0, -32.4, -32.8, -33.1, -33.3, -33.4, -33.3, -32.8, -32.0, -30.9, -29.6, -27.8, -25.8, -23.4, -20.8, -18.0, -15.0, -12.0, -9.0, -6.2, -3.6, -1.4, 0.6, 2.1, 3.4, 4.0, 4.3, 4.1, 3.6, 3.0, 2.2, 0.9, -0.6, -2.3, -4.0, -6.1, -8.2, -10.4, -12.6, -14.8, -17.0, -19.0, -21.0, -22.9, -24.6, -26.1, -27.4, -28.5, -29.4, -30.2, -31.0],
}

W, H = 1168, 574
fig = plt.figure(figsize=(W / 100, H / 100), dpi=100)
fig.patch.set_facecolor("white")


def axes_px(x0, x1, y0, y1):
    # pixel box (top-left origin) -> figure fraction
    return fig.add_axes([x0 / W, 1 - y1 / H, (x1 - x0) / W, (y1 - y0) / H])


LW = 0.75
STYLES = {
    "east": dict(color="black", linestyle="-"),
    "west": dict(color="black", linestyle=(0, (4, 4))),
    "north": dict(color="#555555", linestyle=(0, (1, 3))),
}

BOX_TOP, BOX_BOT = 22.7, 505
panels = [
    # (x0, x1, ylim, title, groups, ylabel x, zero line)
    (67.7, 584.0, (-37.1, 25.1), "Canadian weather data set \u2013 raw data",
     [("east", east_raw), ("west", west_raw), ("north", north_raw)], 16, False),
    (647.7, 1165.0, (-35.6, 23.6), "Canadian weather data set \u2013 smoothed data",
     [("east", east_smooth), ("west", west_smooth), ("north", north_smooth)], 591, True),
]

for x0, x1, ylim, title, groups, ylab_x, zero_line in panels:
    ax = axes_px(x0, x1, BOX_TOP, BOX_BOT)
    for key, series in groups:
        for vals in series.values():
            n = min(len(days), len(vals))
            ax.plot(days[:n], vals[:n], lw=LW, **STYLES[key])
    if zero_line:
        ax.axhline(0, color="black", lw=LW, linestyle=(0, (4, 4)))

    ax.set_xlim(-13.56, 379.56)
    ax.set_ylim(*ylim)
    ax.set_xticks([0, 100, 200, 300])
    yt = [-30, -20, -10, 0, 10, 20]
    ax.set_yticks(yt)
    ax.set_yticklabels([str(v).replace("-", "\u2212") for v in yt], rotation=90, va="center")
    ax.tick_params(direction="out", length=6.8, width=0.75, labelsize=9, color="black")
    ax.tick_params(axis="x", pad=3.5)
    ax.tick_params(axis="y", pad=5)
    for s in ax.spines.values():
        s.set_linewidth(0.75)
        s.set_color("black")

    handles = [Line2D([], [], lw=LW, **STYLES[k]) for k in ("east", "west", "north")]
    leg = ax.legend(handles, region_labels, loc="lower center", bbox_to_anchor=(0.5, 0.0),
                    borderaxespad=0, fontsize=9, frameon=True, fancybox=False,
                    edgecolor="black", framealpha=1, borderpad=0.6, labelspacing=0.15,
                    handlelength=2.0, handletextpad=1.0)
    leg.get_frame().set_linewidth(0.75)

    cx = (x0 + x1) / 2 / W
    fig.text(cx, 1 - 9.5 / H, title, ha="center", va="center", fontsize=10.5, fontweight="bold")
    fig.text(cx, 1 - 558 / H, "Day", ha="center", va="center", fontsize=9)
    fig.text(ylab_x / W, 1 - (BOX_TOP + BOX_BOT) / 2 / H, "Temperature (C)", rotation=90,
             ha="center", va="center", fontsize=9)

fig.savefig("out.png", dpi=100, facecolor="white")
